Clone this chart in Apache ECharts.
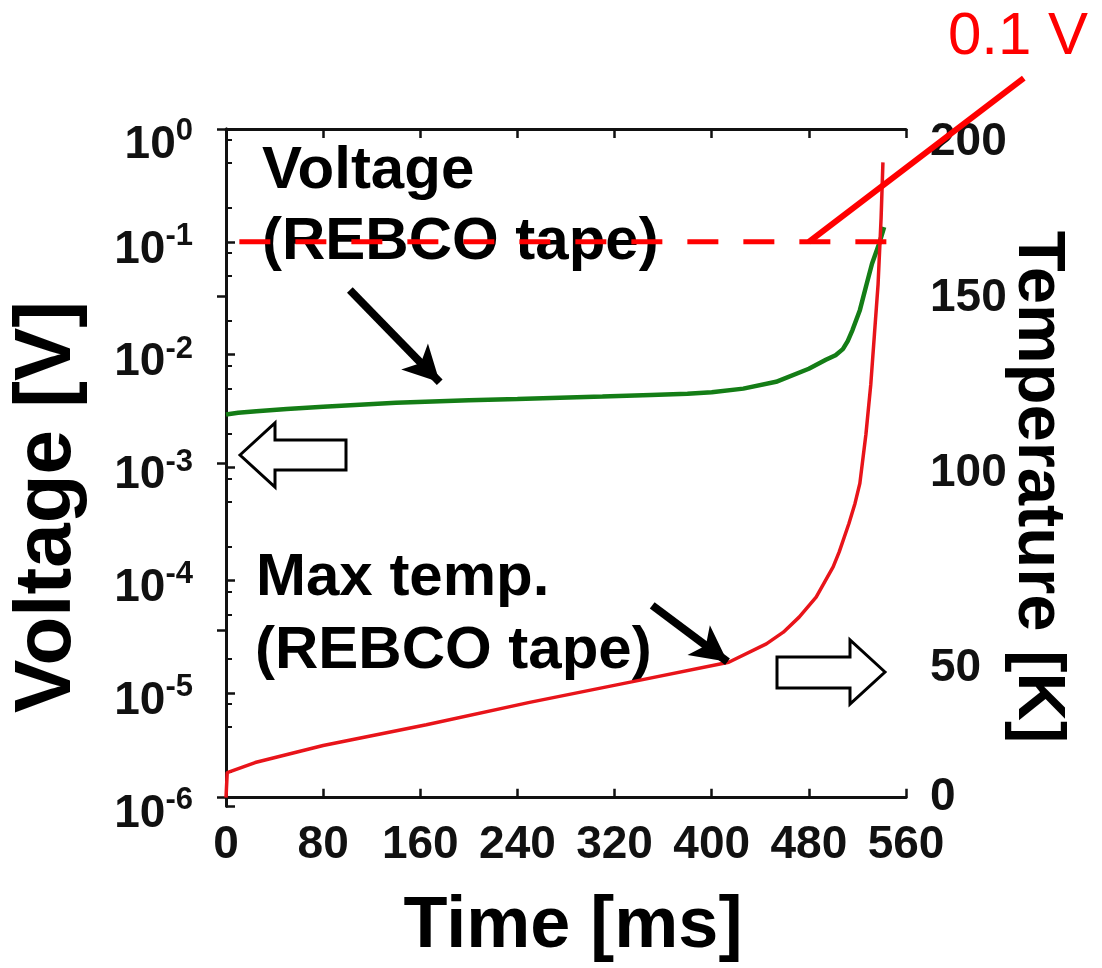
<!DOCTYPE html>
<html>
<head>
<meta charset="utf-8">
<title>REBCO tape quench</title>
<script src="https://cdn.jsdelivr.net/npm/echarts@6/dist/echarts.min.js"></script>
<style>
  html, body { margin: 0; padding: 0; background: #fff; }
  #chart { width: 1102px; height: 968px; }
</style>
</head>
<body>
<div id="chart"></div>
<script>
// ticks
const timeTicks = [0, 80, 160, 240, 320, 400, 480, 560]
const voltageDecades = [1e-6, 1e-5, 1e-4, 1e-3, 1e-2, 1e-1, 1]
const minorSteps = [2, 5, 8]
const tempTicks = [0, 50, 100, 150, 200]

// voltage of the REBCO tape (left, log axis)
const voltageTime = [0, 10, 25, 50, 80, 110, 140, 170, 200, 240, 275, 310, 350, 380, 400, 426, 453, 480, 494, 502, 508, 512, 516, 522, 527, 532, 538, 542]
const voltageValue = [0.00295, 0.00305, 0.00315, 0.0033, 0.00345, 0.0036, 0.00375, 0.00385, 0.00395, 0.00405, 0.00415, 0.00425, 0.0044, 0.0045, 0.00465, 0.005, 0.00575, 0.0075, 0.009, 0.0099, 0.0112, 0.0132, 0.0166, 0.0248, 0.04, 0.064, 0.097, 0.135]

// max temperature of the REBCO tape (right axis, K)
const tempTime = [0, 1, 24, 80, 165, 250, 335, 414, 445, 459, 472, 486, 500, 505, 513, 518, 522, 527, 531, 534, 537, 539.5, 541]
const tempValue = [0, 7.5, 10.5, 15.6, 21.8, 28.5, 34.7, 40.5, 46, 49.5, 54, 60, 69, 73.5, 82, 88, 94, 108.7, 123.6, 138.6, 153.5, 173.4, 190]

// annotations
const thresholdLine = [[11, 0.1], [544, 0.1]]
const calloutLine = [[480, 0.1], [657, 2.83]]
const voltArrow = [[102, 0.0374], [176, 0.0057]]
const tempArrow = [[351, 6.0e-5], [413, 1.9e-5]]

const FONT = 'Liberation Sans'
const INK = '#111'

const minorValues = []
voltageDecades.slice(0, -1).forEach(d => {
  minorSteps.forEach(m => minorValues.push(d * m))
})

// the printed temperature labels sit a little below their ticks
const tempLabelDrop = { 0: 0, 50: 38, 100: 10, 150: 2, 200: 13 }

const chart = echarts.init(document.getElementById('chart'))

const tickFont = { fontFamily: FONT, fontWeight: 'bold', color: INK }

const graphics = [
  { id: 't1', type: 'text', z: 1, x: 262, y: 171, style: { text: 'Voltage', font: 'bold 60px "Liberation Sans"', fill: '#000', verticalAlign: 'middle' } },
  { id: 't2', type: 'text', z: 1, x: 262, y: 242, style: { text: '(REBCO tape)', font: 'bold 60px "Liberation Sans"', fill: '#000', verticalAlign: 'middle' } },
  { id: 't3', type: 'text', z: 1, x: 256, y: 578, style: { text: 'Max temp.', font: 'bold 60px "Liberation Sans"', fill: '#000', verticalAlign: 'middle' } },
  { id: 't4', type: 'text', z: 1, x: 255, y: 651, style: { text: '(REBCO tape)', font: 'bold 60px "Liberation Sans"', fill: '#000', verticalAlign: 'middle' } },
  { id: 't5', type: 'text', z: 1, x: 948, y: 37, style: { text: '0.1 V', font: '60px "Liberation Sans"', fill: '#ff0000', verticalAlign: 'middle' } },
  { id: 'xt', type: 'text', z: 1, x: 573, y: 927, style: { text: 'Time [ms]', font: 'bold 72px "Liberation Sans"', fill: '#000', align: 'center', verticalAlign: 'middle' } },
  { id: 'yl', type: 'text', z: 1, x: 48, y: 507, rotation: Math.PI / 2, style: { text: 'Voltage [V]', font: 'bold 80px "Liberation Sans"', fill: '#000', align: 'center', verticalAlign: 'middle' } },
  { id: 'yr', type: 'text', z: 1, x: 1037, y: 487, rotation: -Math.PI / 2, style: { text: 'Temperature [K]', font: 'bold 67px "Liberation Sans"', fill: '#000', align: 'center', verticalAlign: 'middle' } },
  {
    id: 'al', type: 'polygon', z: 1,
    shape: { points: [[240, 455], [275, 423], [275, 440], [346, 440], [346, 470], [275, 470], [275, 487]] },
    style: { fill: '#fff', stroke: '#000', lineWidth: 3 }
  },
  {
    id: 'ar', type: 'polygon', z: 1,
    shape: { points: [[885, 672], [850, 640], [850, 657], [777, 657], [777, 688], [850, 688], [850, 704]] },
    style: { fill: '#fff', stroke: '#000', lineWidth: 3 }
  }
]

const tempRich = { n: { ...tickFont, fontSize: 46, lineHeight: 52 } }
tempTicks.forEach(v => {
  tempRich['g' + v] = { fontSize: 1, lineHeight: Math.max(1, tempLabelDrop[v] * 2) }
})

const option = {
  backgroundColor: '#fff',
  animation: false,
  grid: { left: 226, right: 196, top: 129, bottom: 162 },
  xAxis: [{
    type: 'value',
    min: 0,
    max: 560,
    interval: 80,
    axisLine: { lineStyle: { color: INK, width: 3 } },
    axisTick: { inside: true, length: 9, lineStyle: { color: INK, width: 2.5 } },
    splitLine: { show: false },
    axisLabel: { ...tickFont, fontSize: 46, margin: 16 }
  }, {
    type: 'value',
    position: 'top',
    min: 0,
    max: 560,
    interval: 80,
    axisLine: { lineStyle: { color: INK, width: 3 } },
    axisTick: { inside: true, length: 9, lineStyle: { color: INK, width: 2.5 } },
    splitLine: { show: false },
    axisLabel: { show: false }
  }],
  yAxis: [{
    type: 'log',
    logBase: 10,
    min: 1e-6,
    max: 1,
    position: 'left',
    axisLine: { show: true, lineStyle: { color: INK, width: 3 } },
    axisTick: { inside: true, length: 9, customValues: voltageDecades, lineStyle: { color: INK, width: 2.5 } },
    splitLine: { show: false },
    axisLabel: {
      customValues: voltageDecades,
      margin: 33,
      formatter: v => {
        const e = Math.round(Math.log10(v))
        return (e === 0 ? '{gt| }' : '{g| }') + '\n{b|10}{s|' + e + '}'
      },
      rich: {
        g: { fontSize: 1, lineHeight: 10 },
        gt: { fontSize: 1, lineHeight: 26 },
        b: { ...tickFont, fontSize: 46, lineHeight: 52, verticalAlign: 'bottom' },
        s: { ...tickFont, fontSize: 31, lineHeight: 30, verticalAlign: 'top' }
      }
    }
  }, {
    type: 'value',
    position: 'right',
    min: -2.5,
    max: 200,
    axisLine: { show: true, lineStyle: { color: INK, width: 3 } },
    axisTick: { inside: true, length: 9, customValues: tempTicks, lineStyle: { color: INK, width: 2.5 } },
    splitLine: { show: false },
    axisLabel: {
      customValues: tempTicks,
      margin: 24,
      formatter: v => tempLabelDrop[v] ? '{g' + v + '| }\n{n|' + v + '}' : '{n|' + v + '}',
      rich: tempRich
    }
  }, {
    type: 'log',
    logBase: 10,
    min: 1e-6,
    max: 1,
    position: 'left',
    axisLine: { show: false },
    axisTick: { inside: true, length: 6, customValues: minorValues, lineStyle: { color: INK, width: 2 } },
    splitLine: { show: false },
    axisLabel: { show: false }
  }],
  series: [{
    name: 'Voltage',
    type: 'line',
    yAxisIndex: 0,
    symbol: 'none',
    lineStyle: { color: '#147d16', width: 4.5 },
    data: voltageTime.map((t, i) => [t, voltageValue[i]]),
    z: 3
  }, {
    name: 'Max temp.',
    type: 'line',
    yAxisIndex: 1,
    symbol: 'none',
    lineStyle: { color: '#e8141a', width: 3.5 },
    data: tempTime.map((t, i) => [t, tempValue[i]]),
    z: 3
  }, {
    name: '0.1 V',
    type: 'line',
    yAxisIndex: 0,
    symbol: 'none',
    lineStyle: { color: '#ff0000', width: 5, type: [31, 25] },
    data: thresholdLine,
    z: 6
  }, {
    name: 'arrows',
    type: 'line',
    yAxisIndex: 0,
    data: [],
    markLine: {
      silent: true,
      symbol: ['none', 'arrow'],
      symbolSize: [28, 36],
      label: { show: false },
      lineStyle: { color: '#000', width: 8, type: 'solid' },
      data: [
        [{ coord: voltArrow[0] }, { coord: voltArrow[1] }],
        [{ coord: tempArrow[0] }, { coord: tempArrow[1] }]
      ]
    },
    z: 5
  }],
  graphic: graphics
}

chart.setOption(option)

// the 0.1 V callout leaves the plot area, so draw it as a graphic placed through the axes
const p1 = chart.convertToPixel({ xAxisIndex: 0, yAxisIndex: 0 }, calloutLine[0])
const p2 = chart.convertToPixel({ xAxisIndex: 0, yAxisIndex: 0 }, calloutLine[1])
chart.setOption({
  graphic: graphics.concat([{
    id: 'callout',
    type: 'line',
    z: 10,
    shape: { x1: p1[0], y1: p1[1], x2: p2[0], y2: p2[1] },
    style: { stroke: '#ff0000', lineWidth: 6 }
  }])
})
</script>
</body>
</html>
